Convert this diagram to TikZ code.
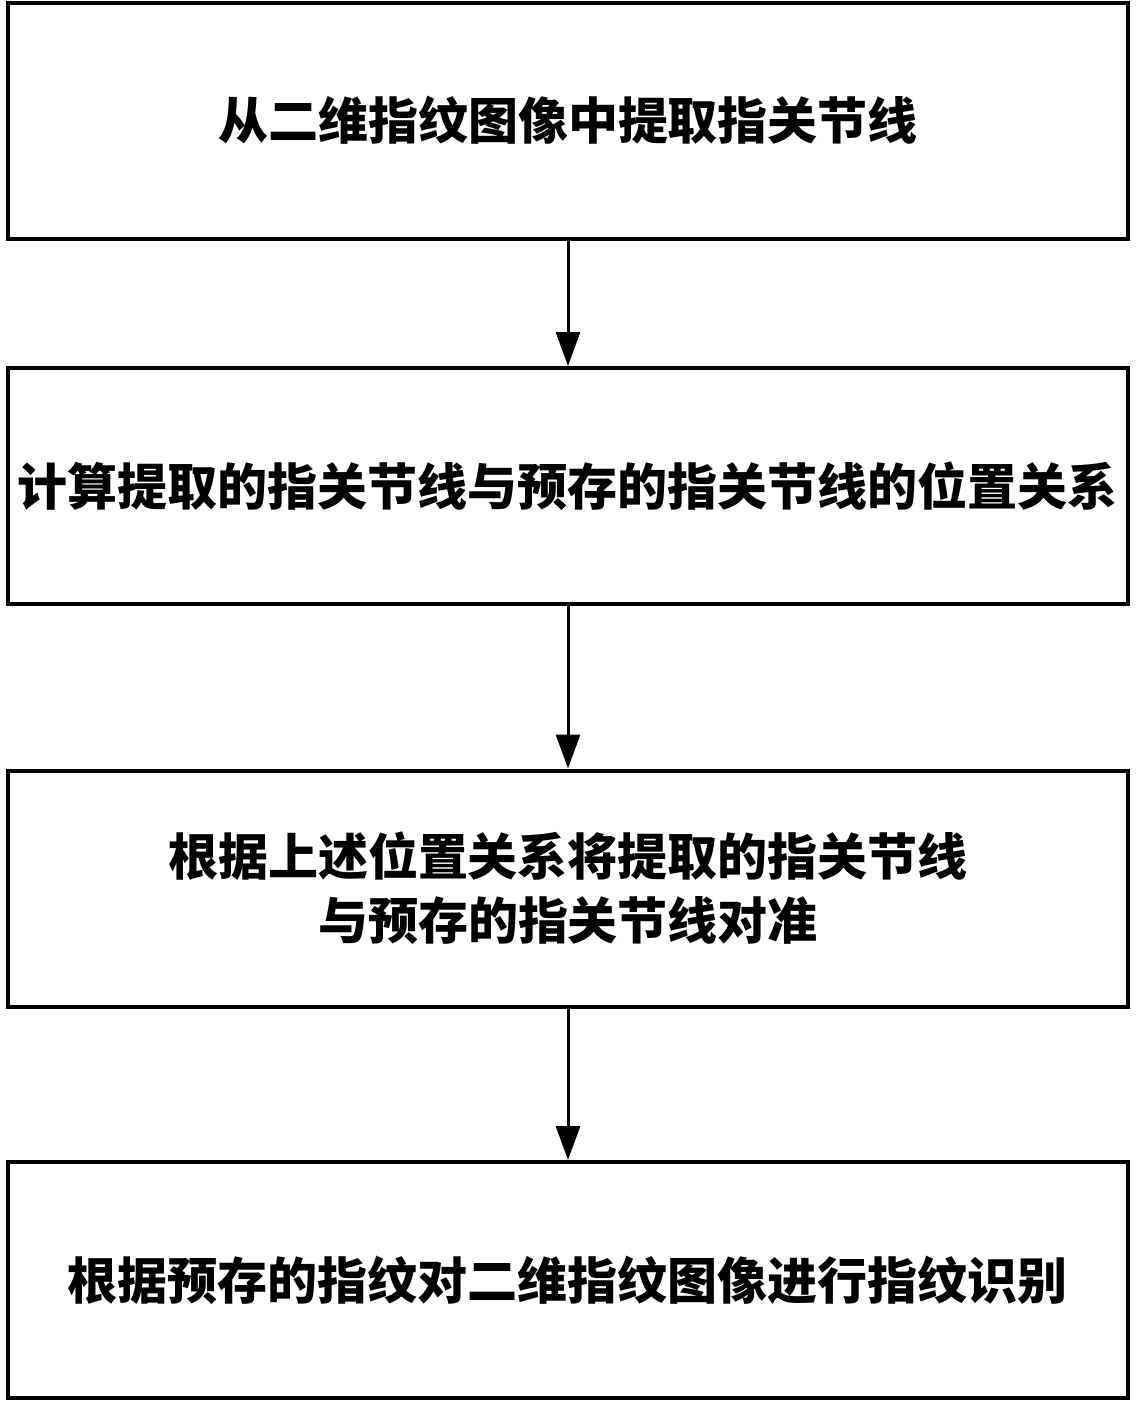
\documentclass[tikz,border=0pt]{standalone}
\usepackage{fontspec}
\newfontfamily\cjk{Noto Sans CJK SC}
\usetikzlibrary{arrows.meta}
\tikzset{
  stepbox/.style={draw, line width=2pt, minimum width=560pt, minimum height=118pt,
    inner sep=0pt, align=center, font=\cjk\bfseries\fontsize{25pt}{32pt}\selectfont},
  flow/.style={-{Triangle[length=17pt,width=12pt]}, line width=1.5pt}
}
\begin{document}
\begin{tikzpicture}[x=0.5pt,y=-0.5pt]
  \useasboundingbox (0,0) rectangle (1136,1404);
  \node[stepbox] (extract) at (568,120.5) {从二维指纹图像中提取指关节线};
  \node[stepbox] (relation) at (568,486) {计算提取的指关节线与预存的指关节线的位置关系};
  \node[stepbox] (align) at (568,888.5) {根据上述位置关系将提取的指关节线\\与预存的指关节线对准};
  \node[stepbox] (identify) at (568,1280) {根据预存的指纹对二维指纹图像进行指纹识别};
  \begin{scope}[flow]
    \draw (extract) to (relation);
    \draw (relation) to (align);
    \draw (align) to (identify);
  \end{scope}
\end{tikzpicture}
\end{document}
